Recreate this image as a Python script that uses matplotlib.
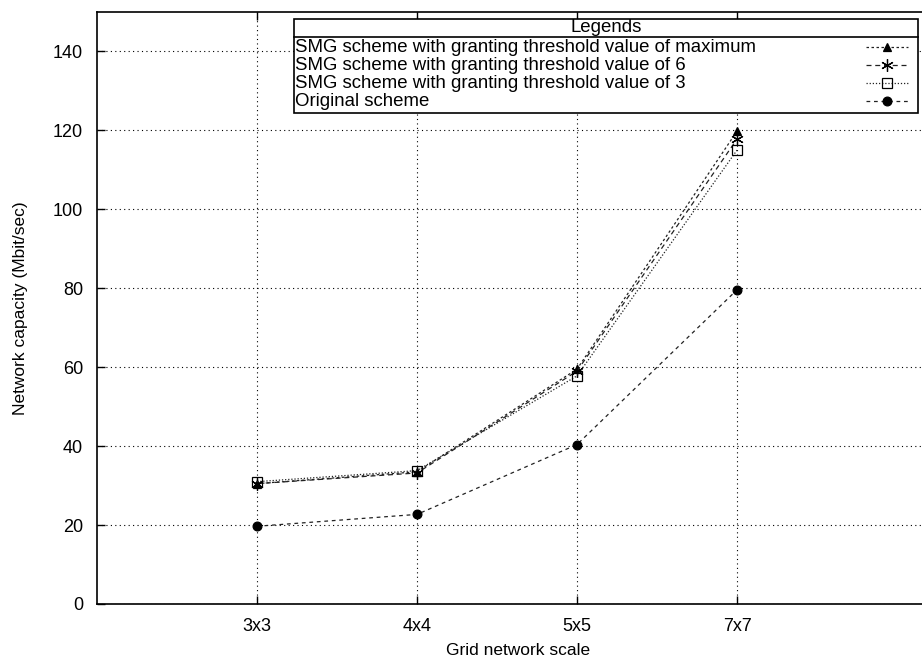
import matplotlib.pyplot as plt
from matplotlib.lines import Line2D
from matplotlib.patches import Rectangle

plt.rcParams['font.family'] = ['Liberation Sans', 'DejaVu Sans']

scales = ["3x3", "4x4", "5x5", "7x7"]
smg_max = [30.5, 33.5, 59.5, 119.8]
smg_6 = [30.5, 33.2, 59.0, 117.8]
smg_3 = [31.0, 33.8, 57.8, 115.0]
original = [19.7, 22.7, 40.4, 79.6]

labels = ["SMG scheme with granting threshold value of maximum",
          "SMG scheme with granting threshold value of 6",
          "SMG scheme with granting threshold value of 3",
          "Original scheme"]

W, H = 922, 665
fig = plt.figure(figsize=(W / 100, H / 100), dpi=100)
# axes run off the right edge like the original
ax = fig.add_axes([97 / W, 61 / H, (940 - 97) / W, 592 / H])

x = [1, 2, 3, 4]
styles = [
    dict(ls=(0, (2, 2)), marker="^", ms=6, mfc="black"),
    dict(ls=(0, (4, 3)), marker=(6, 2, 0), ms=9, mfc="black"),
    dict(ls=(0, (1, 1.5)), marker="s", ms=7.5, mfc="none"),
    dict(ls=(0, (3, 3)), marker="o", ms=6.3, mfc="black"),
]
series = [smg_max, smg_6, smg_3, original]
for y, st in zip(series, styles):
    ax.plot(x, y, color="#222222", lw=0.9, mec="black", mew=0.9, **st)

ax.set_xlim(0, (940 - 97) / 160)
ax.set_ylim(0, 150)
ax.set_xticks(x)
ax.set_xticklabels(scales)
ax.set_yticks(range(0, 141, 20))
ax.grid(True, color="black", ls=(0, (1, 3)), lw=0.8)
ax.tick_params(direction="in", length=6, width=1, top=True, right=True,
               labelsize=13, pad=10)
for s in ax.spines.values():
    s.set_linewidth(1.2)
ax.set_xlabel("Grid network scale", fontsize=12.5, labelpad=6)
ax.set_ylabel("Network capacity (Mbit/sec)", fontsize=12.5, labelpad=18)

# legend box drawn by hand (gnuplot style)
def fx(p):
    return p / W

def fy(p):
    return 1 - p / H

fig.add_artist(Rectangle((fx(294), fy(113)), fx(918) - fx(294), fy(19) - fy(113),
                         transform=fig.transFigure, fc="white", ec="black", lw=1.2))
fig.add_artist(Line2D([fx(294), fx(918)], [fy(37), fy(37)],
                      transform=fig.transFigure, color="black", lw=1.2))
fig.text(fx(606), fy(28), "Legends", ha="center", va="center", fontsize=13.4)
rows = [47, 65, 83, 101]
for lab, st, r in zip(labels, styles, rows):
    fig.text(fx(295), fy(r), lab, ha="left", va="center", fontsize=13.4)
    fig.add_artist(Line2D([fx(866), fx(887), fx(908)], [fy(r)] * 3,
                          transform=fig.transFigure, color="#222222", lw=0.9,
                          mec="black", mew=0.9, markevery=[1], **st))

fig.savefig("out.png", dpi=100)
